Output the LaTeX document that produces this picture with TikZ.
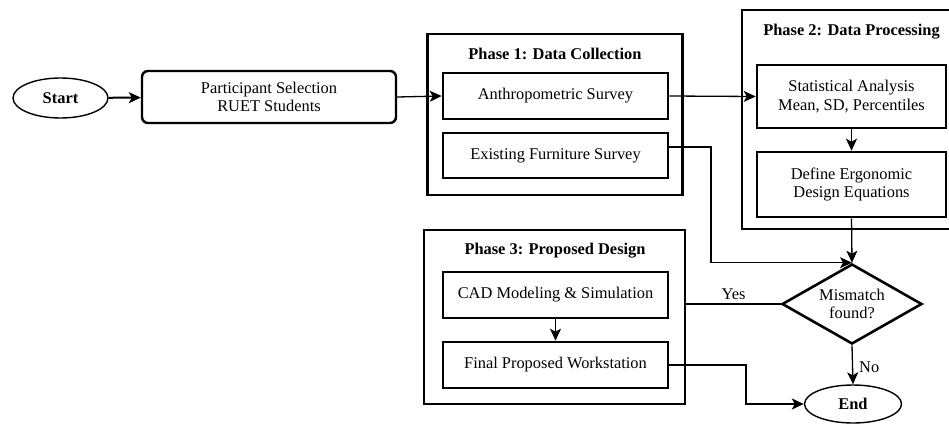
\documentclass[tikz,border=0pt]{standalone}
\usepackage{fontspec}
\setmainfont{Liberation Serif}
\usetikzlibrary{shapes.geometric,arrows.meta,calc}
\begin{document}
\begin{tikzpicture}[x=1pt,y=-1pt,
  every node/.style={font=\fontsize{16.4}{18.5}\selectfont, align=center, inner sep=0pt},
  phasebox/.style={draw, line width=2.6pt},
  stepbox/.style={draw, line width=2.6pt, rectangle, minimum width=225pt, minimum height=46pt},
  widebox/.style={draw, line width=2.6pt, rectangle, minimum width=189pt},
  title/.style={font=\fontsize{16.4}{18.5}\selectfont\bfseries},
  conn/.style={line width=1.3pt, -{Stealth[length=12pt,width=11pt,inset=3pt]}},
  plain/.style={line width=1.3pt}
]
\useasboundingbox (0,0) rectangle (949,423);
% phase containers
\node[phasebox, minimum width=255pt, minimum height=161pt] (p1) at (555,114.5) {};
\node[title] (p1t) at (555,54) {Phase 1: Data Collection};
\node[phasebox, minimum width=219pt, minimum height=219pt] (p2) at (851.5,119.5) {};
\node[title] (p2t) at (851.5,32) {Phase 2: Data Processing};
\node[phasebox, minimum width=261pt, minimum height=174pt] (p3) at (554.5,317) {};
\node[title] (p3t) at (555,251) {Phase 3: Proposed Design};
% nodes
\node[draw, ellipse, line width=1.4pt, minimum width=95pt, minimum height=40pt, font=\fontsize{16.4}{18.5}\selectfont\bfseries] (start) at (60.5,98) {Start};
\node[draw, rectangle, rounded corners=6pt, line width=2.4pt, minimum width=254pt, minimum height=52pt] (part) at (269,97) {Participant Selection\\RUET Students};
\node[stepbox] (anth) at (555.5,96) {Anthropometric Survey};
\node[stepbox, minimum height=45pt] (exist) at (555.5,155.5) {Existing Furniture Survey};
\node[widebox, minimum height=63pt] (stat) at (851.5,96.5) {Statistical Analysis\\Mean, SD, Percentiles};
\node[widebox, minimum height=65pt] (def) at (851.5,184.5) {Define Ergonomic\\Design Equations};
\node[draw, diamond, aspect=1.75, line width=2.6pt, minimum width=140pt, minimum height=80pt] (dia) at (852,304) {};
\node at (852,304) {Mismatch\\found?};
\node[stepbox] (cad) at (555.5,295) {CAD Modeling \& Simulation};
\node[stepbox] (fin) at (555.5,365) {Final Proposed Workstation};
\node[draw, ellipse, line width=1.4pt, minimum width=97pt, minimum height=38pt, font=\fontsize{16.4}{18.5}\selectfont\bfseries] (end) at (853,404) {End};
% connectors
\draw[conn, line width=2pt] (start) -- (part);
\draw[conn] (part.east) -- (anth.west);
\draw[conn] (anth.east) -- (stat.west);
\draw[conn] (stat) -- (def);
\draw[conn] (def.south) -- (dia.north);
\coordinate (bend1) at (711,147);
\draw[conn] ([yshift=8.5pt]exist.east) -- (bend1) |- (dia.north);
\coordinate (yesend) at (p3.east |- dia.west);
\draw[plain] (dia.west) -- node[above=4pt, pos=0.5] (yes) {Yes} (yesend);
\draw[conn] (dia.south) -- node[right=6pt, pos=0.55] (no) {No} (end.north);
\coordinate (bend2) at (746,365);
\draw[conn] (fin.east) -- (bend2) |- (end.west);
\draw[conn] (cad) -- (fin);
\end{tikzpicture}
\end{document}
